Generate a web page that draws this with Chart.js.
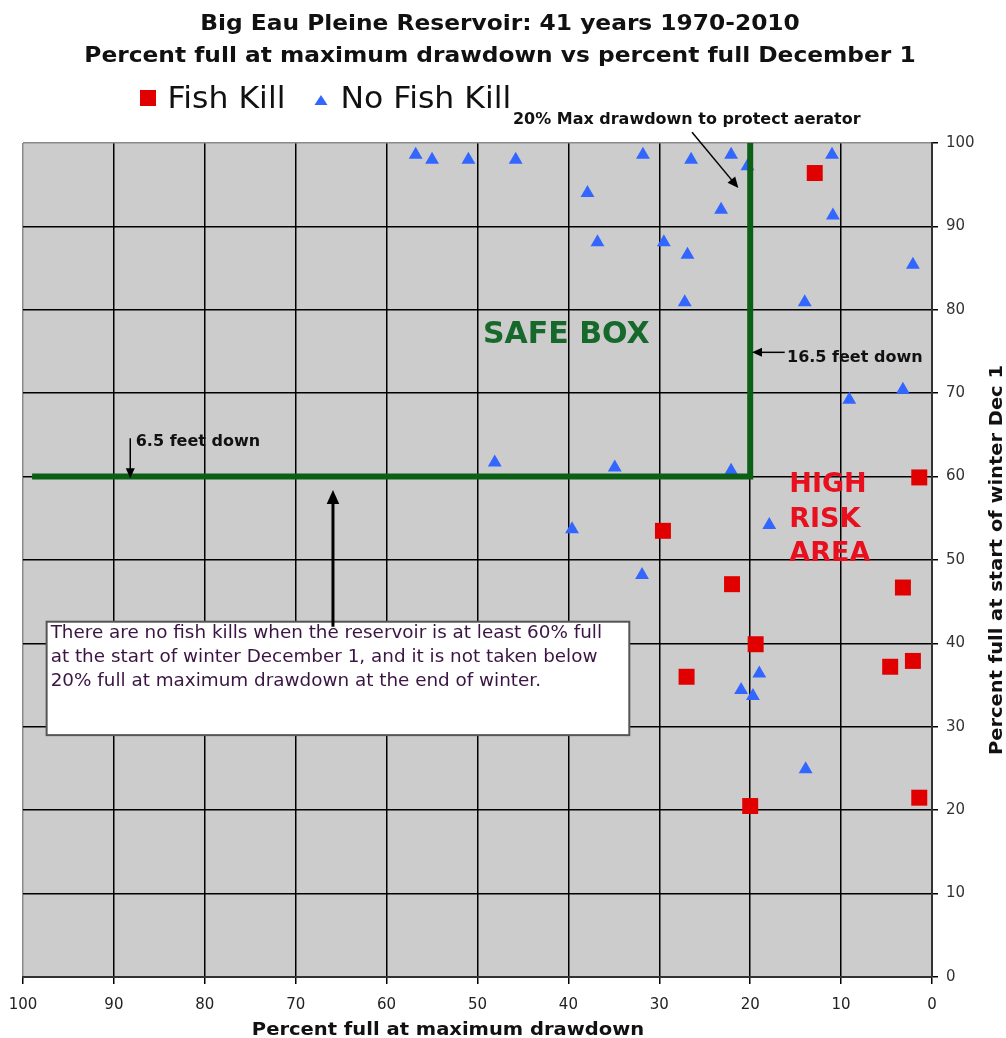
<!DOCTYPE html>
<html>
<head>
<meta charset="utf-8">
<script src="https://cdn.jsdelivr.net/npm/chart.js@4.4.0/dist/chart.umd.min.js"></script>
<style>
html, body { margin: 0; padding: 0; background: #fff; }
#wrap { width: 1006px; height: 1038px; position: relative; }
</style>
</head>
<body>
<div id="wrap"><canvas id="chart"></canvas></div>
<script>
// x = percent full at maximum drawdown, y = percent full December 1
var fishKillX = [12.9, 1.4, 29.6, 22.0, 3.2, 19.4, 4.6, 2.1, 27.0, 20.0, 1.4]
var fishKillY = [96.4, 59.9, 53.5, 47.1, 46.7, 39.9, 37.2, 37.9, 36.0, 20.5, 21.5]
var noKillX = [56.8, 55.0, 51.0, 45.8, 31.8, 26.5, 22.1, 20.3, 11.0, 37.9, 23.2, 10.9, 36.8, 29.5, 26.9,
               2.1, 27.2, 14.0, 3.2, 9.1, 48.1, 34.9, 22.1, 39.6, 17.9, 31.9, 19.0, 21.0, 19.7, 13.9]
var noKillY = [98.6, 98.0, 98.0, 98.0, 98.6, 98.0, 98.6, 97.2, 98.6, 94.0, 92.0, 91.3, 88.1, 88.1, 86.6,
               85.4, 80.9, 80.9, 70.4, 69.2, 61.7, 61.1, 60.7, 53.7, 54.2, 48.2, 36.4, 34.4, 33.7, 24.9]
// safe box border: 60% full on Dec 1, 20% max drawdown
var safeBoxX = [99, 20, 20]
var safeBoxY = [60, 60, 100]
var tickValues = [0, 10, 20, 30, 40, 50, 60, 70, 80, 90, 100]

var titleLines = ['Big Eau Pleine Reservoir: 41 years 1970-2010',
                  'Percent full at maximum drawdown vs percent full December 1']
var legendNames = ['Fish Kill', 'No Fish Kill']
var boxLines = ['There are no fish kills when the reservoir is at least 60% full',
                'at the start of winter December 1, and it is not taken below',
                '20% full at maximum drawdown at the end of winter.']

function pairs(xs, ys) {
  var out = []
  for (var i = 0; i < xs.length; i++) out.push({x: xs[i], y: ys[i]})
  return out
}

function txt(c, s, x, y, font, color, align, sx, rot) {
  c.save()
  c.translate(x, y)
  if (rot) c.rotate(rot)
  c.scale(sx || 1, 1)
  c.font = font
  c.fillStyle = color
  c.textAlign = align || 'left'
  c.textBaseline = 'alphabetic'
  c.fillText(s, 0, 0)
  c.restore()
}

function arrow(c, x1, y1, x2, y2, w, head) {
  var ang = Math.atan2(y2 - y1, x2 - x1)
  var cs = Math.cos(ang), sn = Math.sin(ang)
  c.save()
  c.strokeStyle = '#000'
  c.fillStyle = '#000'
  c.lineWidth = w
  c.beginPath()
  c.moveTo(x1, y1)
  c.lineTo(x2 - cs * head * 0.7, y2 - sn * head * 0.7)
  c.stroke()
  c.beginPath()
  c.moveTo(x2, y2)
  c.lineTo(x2 - head * cs + head * 0.45 * sn, y2 - head * sn - head * 0.45 * cs)
  c.lineTo(x2 - head * cs - head * 0.45 * sn, y2 - head * sn + head * 0.45 * cs)
  c.closePath()
  c.fill()
  c.restore()
}

var notes = {
  id: 'notes',
  beforeDraw: function (chart) {
    var a = chart.chartArea, c = chart.ctx
    c.save()
    c.fillStyle = '#cccccc'
    c.fillRect(a.left, a.top, a.right - a.left, a.bottom - a.top)
    c.restore()
  },
  afterDraw: function (chart) {
    var c = chart.ctx
    var sx = chart.scales.x, sy = chart.scales.y
    var X = function (v) { return sx.getPixelForValue(v) }
    var Y = function (v) { return sy.getPixelForValue(v) }

    // titles
    txt(c, titleLines[0], 500, 30, 'bold 21px "DejaVu Sans"', '#111', 'center', 1.11)
    txt(c, titleLines[1], 500, 61.5, 'bold 21px "DejaVu Sans"', '#111', 'center', 1.11)

    // legend
    var ds = chart.data.datasets
    c.save()
    c.fillStyle = ds[1].backgroundColor
    c.fillRect(140, 90, 16, 16)
    c.fillStyle = ds[2].backgroundColor
    c.beginPath()
    c.moveTo(321, 95); c.lineTo(327.5, 105); c.lineTo(314.5, 105)
    c.closePath(); c.fill()
    c.restore()
    txt(c, legendNames[0], 167.5, 107.5, '30px "DejaVu Sans"', '#111', 'left', 1.05)
    txt(c, legendNames[1], 340.5, 107.5, '30px "DejaVu Sans"', '#111', 'left', 1.05)

    // axis titles
    txt(c, 'Percent full at maximum drawdown', 448, 1035, 'bold 18px "DejaVu Sans"', '#111', 'center', 1.085)
    txt(c, 'Percent full at start of winter Dec 1', 1001.5, 560, 'bold 18px "DejaVu Sans"', '#111', 'center', 1.08, -Math.PI / 2)

    // area labels
    txt(c, 'SAFE BOX', X(49.4), Y(76.0), 'bold 30px "DejaVu Sans"', '#17692b', 'left')
    var red = '#e8101e'
    txt(c, 'HIGH', X(15.7), Y(58.2), 'bold 27px "DejaVu Sans"', red, 'left')
    txt(c, 'RISK', X(15.7), Y(58.2) + 35, 'bold 27px "DejaVu Sans"', red, 'left')
    txt(c, 'AREA', X(15.7), Y(58.2) + 69, 'bold 27px "DejaVu Sans"', red, 'left')

    // callouts
    txt(c, '20% Max drawdown to protect aerator', X(46.1), Y(102.3), 'bold 15px "DejaVu Sans"', '#111', 'left', 1.065)
    arrow(c, X(26.4), Y(101.3), X(21.3), Y(94.6), 1.5, 11)
    txt(c, '16.5 feet down', X(15.95), Y(73.8), 'bold 16px "DejaVu Sans"', '#111', 'left')
    arrow(c, X(16.2), Y(74.9), X(19.8), Y(74.9), 1.5, 10)
    txt(c, '6.5 feet down', X(87.6), Y(63.7), 'bold 16px "DejaVu Sans"', '#111', 'left')
    arrow(c, X(88.2), Y(64.6), X(88.2), Y(59.8), 1.5, 10)

    // text box
    var bx = X(97.4), by = Y(42.6), bw = X(33.3) - bx, bh = Y(29.0) - by
    c.save()
    c.fillStyle = '#fff'
    c.fillRect(bx, by, bw, bh)
    c.strokeStyle = '#555'
    c.lineWidth = 2
    c.strokeRect(bx, by, bw, bh)
    c.restore()
    for (var i = 0; i < boxLines.length; i++) {
      txt(c, boxLines[i], bx + 4, by + 16.5 + i * 23.7, '17px "DejaVu Sans"', '#3a1442', 'left', 1.08)
    }
    arrow(c, X(65.9), Y(42.0), X(65.9), Y(58.4), 3, 14)
  }
}

new Chart(document.getElementById('chart'), {
  type: 'scatter',
  data: {
    datasets: [
      {
        type: 'line',
        label: 'Safe box',
        data: pairs(safeBoxX, safeBoxY),
        borderColor: '#0b6016',
        borderWidth: 6,
        borderJoinStyle: 'miter',
        pointRadius: 0,
        fill: false,
        tension: 0
      },
      {
        label: legendNames[0],
        data: pairs(fishKillX, fishKillY),
        pointStyle: 'rect',
        pointRadius: 11.3,
        backgroundColor: '#e00000',
        borderColor: '#e00000',
        borderWidth: 0
      },
      {
        label: legendNames[1],
        data: pairs(noKillX, noKillY),
        pointStyle: 'triangle',
        pointRadius: 8,
        backgroundColor: '#3366ff',
        borderColor: '#3366ff',
        borderWidth: 0
      }
    ]
  },
  options: {
    responsive: true,
    maintainAspectRatio: false,
    animation: false,
    events: [],
    layout: { padding: { top: 143, left: 23, right: 0, bottom: 0 } },
    plugins: {
      legend: { display: false },
      title: { display: false },
      tooltip: { enabled: false }
    },
    scales: {
      x: {
        type: 'linear',
        min: 0,
        max: 100,
        reverse: true,
        afterBuildTicks: function (scale) { scale.ticks = tickValues.map(function (v) { return {value: v} }) },
        afterFit: function (scale) { scale.height = 61 },
        grid: {
          color: function (ctx) { return ctx.tick && ctx.tick.value === 100 ? '#8a8a8a' : '#000' },
          lineWidth: 1.5,
          tickLength: 7,
          tickColor: '#000'
        },
        border: { display: true, color: '#333', width: 2 },
        ticks: { padding: 12, color: '#222', font: { family: 'DejaVu Sans', size: 15 } }
      },
      y: {
        type: 'linear',
        position: 'right',
        min: 0,
        max: 100,
        afterBuildTicks: function (scale) { scale.ticks = tickValues.map(function (v) { return {value: v} }) },
        afterFit: function (scale) { scale.width = 74 },
        grid: {
          color: function (ctx) { return ctx.tick && ctx.tick.value === 100 ? '#8a8a8a' : '#000' },
          lineWidth: 1.5,
          tickLength: 6,
          tickColor: '#000'
        },
        border: { display: true, color: '#333', width: 2 },
        ticks: { padding: 8, color: '#333', font: { family: 'DejaVu Sans', size: 15 } }
      }
    }
  },
  plugins: [notes]
})
</script>
</body>
</html>
